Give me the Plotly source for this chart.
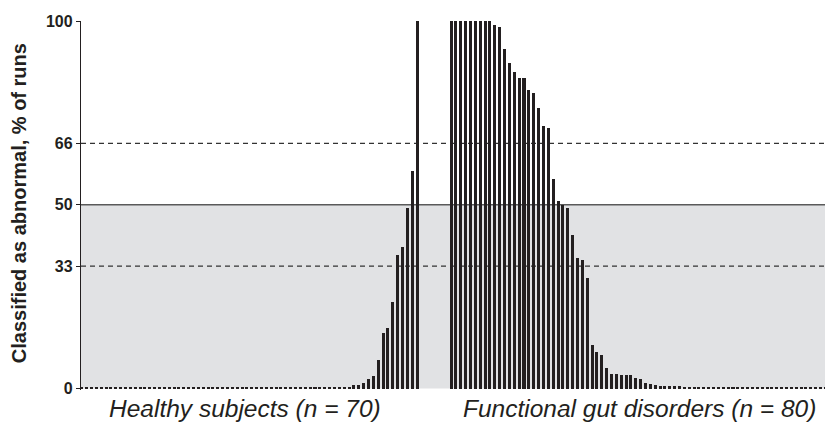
import plotly.graph_objects as go

# ---- data ----
healthy_values = [
    0.5, 0.5, 0.5, 0.5, 0.3, 0.5, 0.5, 0.5, 0.5, 0.5,
    0.5, 0.5, 0.3, 0.5, 0.5, 0.5, 0.3, 0.5, 0.5, 0.5,
    0.5, 0.5, 0.3, 0.5, 0.5, 0.5, 0.5, 0.5, 0.3, 0.5,
    0.5, 0.5, 0.5, 0.3, 0.5, 0.5, 0.5, 0.5, 0.5, 0.3,
    0.5, 0.5, 0.5, 0.5, 0.5, 0.3, 0.5, 0.5, 0.5, 0.5,
    0.5, 0.5, 0.3, 0.5, 0.5, 0.5, 1.0, 1.0, 1.5, 2.5,
    3.4, 7.8, 15.1, 16.5, 23.6, 36.4, 38.5, 49.2, 59.2, 100,
]
gut_values = [
    100, 100, 100, 100, 100, 100, 100, 100, 100, 99.0,
    98.5, 92.4, 88.5, 86.2, 84.6, 84.4, 81.3, 80.5, 76.2, 71.5,
    70.8, 57.0, 51.1, 50.0, 49.2, 41.8, 35.4, 35.1, 30.2, 11.9,
    10.0, 9.1, 5.7, 4.0, 4.0, 3.7, 3.7, 3.7, 2.9, 2.6,
    1.6, 1.3, 0.95, 0.7, 0.7, 0.7, 0.7, 0.7, 0.4, 0.5,
    0.5, 0.5, 0.5, 0.3, 0.5, 0.5, 0.5, 0.5, 0.5, 0.3,
    0.5, 0.5, 0.5, 0.5, 0.5, 0.5, 0.3, 0.5, 0.5, 0.5,
    0.5, 0.5, 0.5, 0.5, 0.5, 0.5, 0.5, 0.5, 0.5, 0.5,
]
group_labels = ["Healthy subjects (n = 70)", "Functional gut disorders (n = 80)"]
y_tick_values = [0, 33.3, 50, 66.7, 100]
y_tick_labels = ["0", "33", "50", "66", "100"]
y_title = "Classified as abnormal, % of runs"
shade_upper = 50
dashed_levels = [33.3, 66.7]

GAP_SLOTS = 6
healthy_x = list(range(len(healthy_values)))
gut_start = len(healthy_values) + GAP_SLOTS
gut_x = [gut_start + i for i in range(len(gut_values))]

BAR_COLOR = "#231f20"
FONT = "Liberation Sans, Arial, sans-serif"

fig = go.Figure()
fig.add_trace(go.Bar(x=healthy_x, y=healthy_values, width=0.62,
                     marker=dict(color=BAR_COLOR, line=dict(width=0)),
                     showlegend=False))
fig.add_trace(go.Bar(x=gut_x, y=gut_values, width=0.62,
                     marker=dict(color=BAR_COLOR, line=dict(width=0)),
                     showlegend=False))

# shaded area 0-50
fig.add_shape(type="rect", xref="paper", yref="y", x0=0, x1=1, y0=0, y1=shade_upper,
              fillcolor="#e1e2e4", line=dict(width=0), layer="below")
fig.add_shape(type="line", xref="paper", yref="y", x0=0, x1=1, y0=shade_upper, y1=shade_upper,
              line=dict(color="#5a5a5a", width=1.3), layer="below")
for lv in dashed_levels:
    fig.add_shape(type="line", xref="paper", yref="y", x0=0, x1=1, y0=lv, y1=lv,
                  line=dict(color="#333333", width=1.3, dash="5px,4px"), layer="below")

# group labels
fig.add_annotation(x=33.5, y=-0.0505, xref="x", yref="paper", text="<i>" + group_labels[0] + "</i>",
                   showarrow=False, xanchor="center", yanchor="middle",
                   font=dict(family=FONT, size=24.5, color="#231f20"))
fig.add_annotation(x=114.7, y=-0.0505, xref="x", yref="paper", text="<i>" + group_labels[1] + "</i>",
                   showarrow=False, xanchor="center", yanchor="middle",
                   font=dict(family=FONT, size=24.5, color="#231f20"))
fig.add_annotation(x=-0.083, y=0.507, xref="paper", yref="paper", text="<b>" + y_title + "</b>",
                   textangle=-90, showarrow=False, xanchor="center", yanchor="middle",
                   font=dict(family=FONT, size=20, color="#231f20"))

fig.update_layout(
    width=825, height=423,
    margin=dict(l=81, r=0, t=20.5, b=33),
    paper_bgcolor="white", plot_bgcolor="white",
    bargap=0,
    xaxis=dict(range=[-0.144, 152.93], showticklabels=False, showgrid=False,
               zeroline=False, showline=False, ticks=""),
    yaxis=dict(range=[-0.4, 100], tickvals=y_tick_values, ticktext=y_tick_labels,
               showgrid=False, zeroline=False, showline=True, linecolor="#231f20",
               linewidth=1.4, ticks="outside", ticklen=4, tickwidth=1.2,
               tickcolor="#231f20",
               tickfont=dict(family=FONT, size=16, color="#231f20", weight="bold")),
)

fig.write_html("out.html", config={"displayModeBar": False},
               post_script="document.body.style.margin='0';")
